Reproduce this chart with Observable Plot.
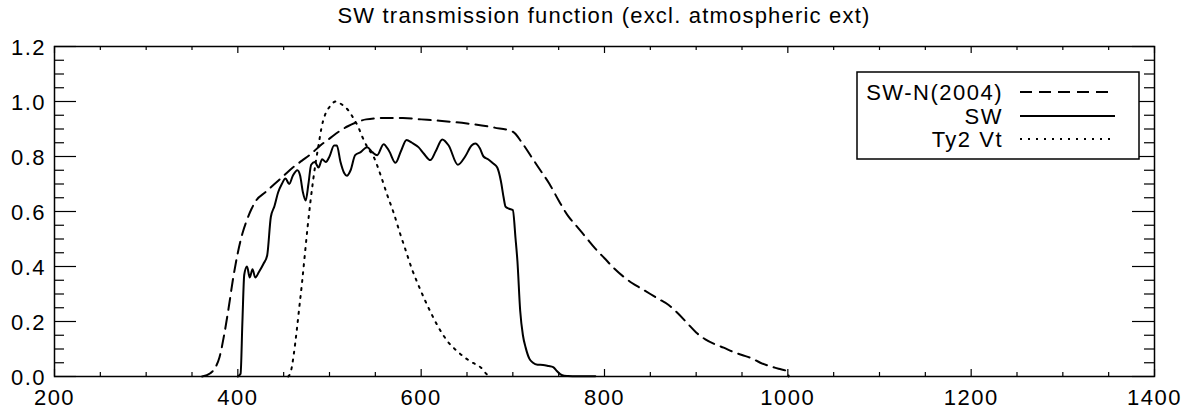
<!DOCTYPE html>
<html><head><meta charset="utf-8">
<script src="https://cdn.jsdelivr.net/npm/d3@7"></script>
<script src="https://cdn.jsdelivr.net/npm/@observablehq/plot@0.6"></script>
<style>
body{margin:0;background:#fff;}
#chart{position:relative;width:1188px;height:411px;}
#chart svg text{letter-spacing:1.5px;}
</style></head><body><div id="chart"></div>
<script>
const titleText = "SW transmission function (excl. atmospheric ext)";
const seriesNames = ["SW-N(2004)", "SW", "Ty2 Vt"];
const xMajorTicks = [200, 400, 600, 800, 1000, 1200, 1400];
const xMinorTicks = [250, 300, 350, 450, 500, 550, 650, 700, 750, 850, 900, 950, 1050, 1100, 1150, 1250, 1300, 1350];
const yMajorTicks = [0, 0.2, 0.4, 0.6, 0.8, 1.0, 1.2];
const yMinorTicks = [0.05, 0.1, 0.15, 0.25, 0.3, 0.35, 0.45, 0.5, 0.55, 0.65, 0.7, 0.75, 0.85, 0.9, 0.95, 1.05, 1.1, 1.15];

// SW-N(2004) – dashed
const swnWave = [361,370,375,380,385,390,395,400,405,410,415,420,430,440,450,460,470,480,490,500,510,520,530,540,560,580,600,620,650,680,700,710,720,730,740,750,760,770,780,790,800,810,820,830,840,850,860,870,880,890,900,910,920,930,940,950,960,970,980,990,1000,1001];
const swnVal  = [0,0.012,0.03,0.07,0.15,0.25,0.36,0.45,0.52,0.57,0.61,0.64,0.67,0.70,0.73,0.76,0.785,0.81,0.84,0.865,0.89,0.91,0.925,0.935,0.94,0.94,0.935,0.93,0.92,0.905,0.89,0.85,0.80,0.75,0.70,0.64,0.585,0.545,0.505,0.465,0.43,0.395,0.365,0.34,0.32,0.30,0.28,0.26,0.23,0.195,0.16,0.135,0.118,0.105,0.09,0.078,0.067,0.05,0.038,0.028,0.018,0];

// SW – solid
const swWave = [400,403,405,407,410,413,416,419,423,428,432,436,440,444,448,452,456,460,465,468,471,474,477,480,484,488,492,496,500,505,508,512,516,519,523,528,534,541,547,552,559,565,572,578,584,590,597,603,610,616,623,630,640,648,655,659,664,668,673,678,683,687,690,692,696,700,703,705,708,711,714,718,722,727,733,739,744,748,752,756,760,770,780,790];
const swVal  = [0,0.01,0.2,0.37,0.40,0.36,0.39,0.36,0.38,0.41,0.44,0.58,0.62,0.67,0.70,0.72,0.70,0.73,0.75,0.73,0.67,0.64,0.70,0.77,0.78,0.76,0.79,0.78,0.80,0.84,0.84,0.78,0.74,0.73,0.75,0.805,0.816,0.834,0.815,0.805,0.845,0.82,0.777,0.82,0.86,0.85,0.834,0.81,0.787,0.82,0.862,0.84,0.77,0.80,0.84,0.847,0.83,0.80,0.79,0.776,0.76,0.71,0.65,0.618,0.61,0.605,0.50,0.42,0.24,0.15,0.105,0.065,0.05,0.043,0.042,0.038,0.034,0.02,0.008,0.003,0.002,0.001,0.001,0.001];

// Ty2 Vt – dotted
const tyWave = [455,458,461,464,467,470,473,476,479,482,485,488,491,495,500,507,513,520,526,531,536,542,548,556,563,570,577,583,590,596,603,610,619,629,640,654,665,672,675];
const tyVal  = [0,0.02,0.08,0.16,0.25,0.34,0.44,0.54,0.63,0.71,0.78,0.84,0.90,0.95,0.98,1.0,0.99,0.97,0.94,0.91,0.87,0.83,0.80,0.73,0.66,0.595,0.52,0.46,0.39,0.34,0.286,0.236,0.178,0.127,0.09,0.054,0.033,0.007,0];

const toRows = (w, v) => w.map((x, i) => ({x, y: v[i]}));
const swn = toRows(swnWave, swnVal);
const sw = toRows(swWave, swVal);
const ty = toRows(tyWave, tyVal);

const W = 1188, H = 411, mL = 54, mR = 34, mT = 46, mB = 35;
const fw = W - mL - mR, fh = H - mT - mB;
const dashStyles = ["12,7", null, "2,6"];

const plot = Plot.plot({
  width: W, height: H,
  marginLeft: mL, marginRight: mR, marginTop: mT, marginBottom: mB,
  x: {domain: [200, 1400]},
  y: {domain: [0, 1.2]},
  style: {fontFamily: "'Liberation Sans', Arial, sans-serif", fontSize: "22px", background: "white", color: "black"},
  marks: [
    Plot.line(swn, {x: "x", y: "y", stroke: "black", strokeWidth: 2, strokeDasharray: dashStyles[0], curve: "monotone-x"}),
    Plot.line(sw, {x: "x", y: "y", stroke: "black", strokeWidth: 2, curve: "monotone-x"}),
    Plot.line(ty, {x: "x", y: "y", stroke: "black", strokeWidth: 2, strokeDasharray: dashStyles[2], curve: "monotone-x"}),
    Plot.tickX(xMinorTicks, {x: d => d, insetTop: fh - 4, strokeWidth: 1.2}),
    Plot.tickX(xMajorTicks, {x: d => d, insetTop: fh - 7, strokeWidth: 1.2}),
    Plot.tickX(xMinorTicks, {x: d => d, insetBottom: fh - 4, strokeWidth: 1.2}),
    Plot.tickX(xMajorTicks, {x: d => d, insetBottom: fh - 7, strokeWidth: 1.2}),
    Plot.tickY(yMinorTicks, {y: d => d, insetRight: fw - 10, strokeWidth: 1.2}),
    Plot.tickY(yMajorTicks, {y: d => d, insetRight: fw - 22, strokeWidth: 1.2}),
    Plot.tickY(yMinorTicks, {y: d => d, insetLeft: fw - 10, strokeWidth: 1.2}),
    Plot.tickY(yMajorTicks, {y: d => d, insetLeft: fw - 22, strokeWidth: 1.2}),
    Plot.frame({stroke: "black", strokeWidth: 1.5}),
    Plot.axisX({ticks: xMajorTicks, tickSize: 0, tickPadding: 13, label: null, tickFormat: d => String(d)}),
    Plot.axisY({ticks: yMajorTicks, tickSize: 0, tickPadding: 8.5, dy: 1, label: null, tickFormat: d3.format(".1f")})
  ]
});
document.getElementById("chart").appendChild(plot);

const svg = d3.select(plot);
svg.append("text").attr("x", 604).attr("y", 23).attr("text-anchor", "middle")
  .style("letter-spacing", "1.2px").attr("fill", "black").text(titleText);

const lg = svg.append("g");
lg.append("rect").attr("x", 857).attr("y", 72).attr("width", 282).attr("height", 87)
  .attr("fill", "white").attr("stroke", "black").attr("stroke-width", 1.5);
const rowY = [92, 116, 139];
seriesNames.forEach((name, i) => {
  lg.append("text").attr("x", 1003).attr("y", rowY[i]).attr("dy", "0.35em")
    .attr("text-anchor", "end").attr("fill", "black").text(name);
  const ln = lg.append("line").attr("x1", 1020).attr("x2", 1115).attr("y1", rowY[i]).attr("y2", rowY[i])
    .attr("stroke", "black").attr("stroke-width", 2);
  if (dashStyles[i]) ln.attr("stroke-dasharray", dashStyles[i]);
});
</script></body></html>
